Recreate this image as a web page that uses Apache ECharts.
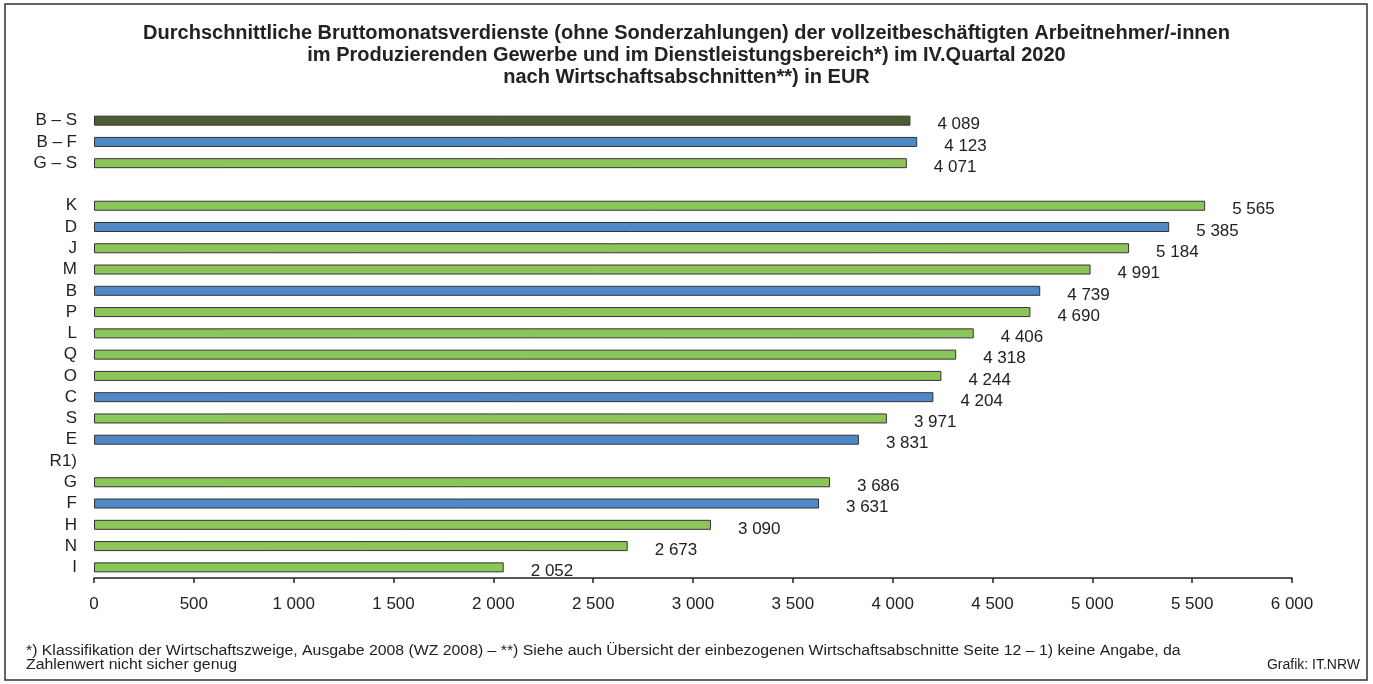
<!DOCTYPE html>
<html><head><meta charset="utf-8">
<script src="https://cdn.jsdelivr.net/npm/echarts@6/dist/echarts.min.js"></script>
<style>html,body{margin:0;padding:0;background:#fff}#c{width:1373px;height:684px}</style>
</head><body><div id="c"></div>
<script>
const categories = ['B – S','B – F','G – S','','K','D','J','M','B','P','L','Q','O','C','S','E','R1)','G','F','H','N','I'];
const values = [4089,4123,4071,null,5565,5385,5184,4991,4739,4690,4406,4318,4244,4204,3971,3831,null,3686,3631,3090,2673,2052];
const groups = ['total','prod','serv',null,'serv','prod','serv','serv','prod','serv','serv','serv','serv','prod','serv','prod',null,'serv','prod','serv','serv','serv'];
const xTicks = [0,500,1000,1500,2000,2500,3000,3500,4000,4500,5000,5500,6000];
const colors = {total:'#4a5e31', prod:'#4f88c6', serv:'#8cc65b'};
const fmt = v => String(v).replace(/\B(?=(\d{3})+(?!\d))/g, ' ');
const F = 'Liberation Sans, Arial, sans-serif';
const chart = echarts.init(document.getElementById('c'));
chart.setOption({
  animation:false,
  title:{text:'Durchschnittliche Bruttomonatsverdienste (ohne Sonderzahlungen) der vollzeitbeschäftigten Arbeitnehmer/-innen\nim Produzierenden Gewerbe und im Dienstleistungsbereich*) im IV.Quartal 2020\nnach Wirtschaftsabschnitten**) in EUR',
    left:'center', top:17, textStyle:{fontFamily:F,fontSize:20,fontWeight:'bold',color:'#222',lineHeight:22}},
  grid:{left:94,right:81,top:110,bottom:106},
  xAxis:{type:'value',min:xTicks[0],max:xTicks[xTicks.length-1],interval:xTicks[1]-xTicks[0],
    axisLine:{show:true,lineStyle:{color:'#222',width:1.5}},
    axisTick:{show:true,length:5,lineStyle:{color:'#222',width:1.5}},
    splitLine:{show:false},
    axisLabel:{fontFamily:F,fontSize:17,color:'#222',margin:18,formatter:v=>fmt(v)}},
  yAxis:{type:'category',data:categories,inverse:true,
    axisLine:{show:false},axisTick:{show:false},
    axisLabel:{interval:0,hideOverlap:false,fontFamily:F,fontSize:17,color:'#222',margin:17}},
  series:[{type:'bar',barWidth:10,
    data:values.map((v,i)=>v==null?null:{value:v,itemStyle:{color:colors[groups[i]]}}),
    itemStyle:{borderColor:'#333',borderWidth:1},
    label:{show:true,position:'right',distance:27,offset:[0,4],fontFamily:F,fontSize:17,color:'#222',formatter:p=>fmt(p.value)}}],
  graphic:[
    {type:'rect',shape:{x:5,y:4,width:1362,height:676},style:{fill:'none',stroke:'#333',lineWidth:1.5}},
    {type:'text',x:26,y:644,scaleX:1.13,style:{text:'*) Klassifikation der Wirtschaftszweige, Ausgabe 2008 (WZ 2008) – **) Siehe auch Übersicht der einbezogenen Wirtschaftsabschnitte Seite 12 – 1) keine Angabe, da\nZahlenwert nicht sicher genug',font:'14px '+F,fill:'#222',lineHeight:14}},
    {type:'text',right:13,top:658,style:{text:'Grafik: IT.NRW',font:'14px '+F,fill:'#222'}}
  ]
});
</script></body></html>
